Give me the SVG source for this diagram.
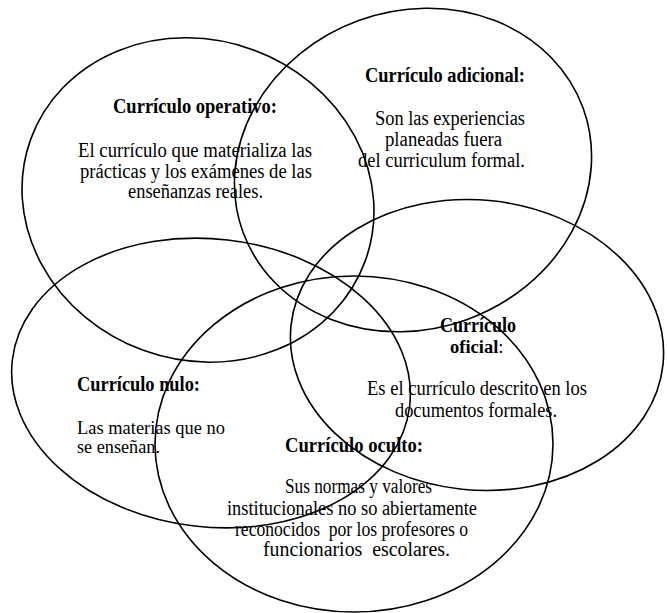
<svg xmlns="http://www.w3.org/2000/svg" width="667" height="613" viewBox="0 0 667 613">
<style>
.e{fill:none;stroke:#000;stroke-width:1.6}
text{font-family:"Liberation Serif","Times New Roman",serif;font-size:20px;fill:#000;white-space:pre}
.h{font-weight:bold}
</style>
<rect width="667" height="613" fill="#fff"/>
<g id="operativo">
<ellipse class="e" cx="198" cy="200" rx="178" ry="160" transform="rotate(20 198 200)"/>
<text class="h" x="113" y="113" textLength="164" lengthAdjust="spacingAndGlyphs">Currículo operativo:</text>
<text x="78" y="157" textLength="234" lengthAdjust="spacingAndGlyphs">El currículo que materializa las</text>
<text x="80" y="178" textLength="232" lengthAdjust="spacingAndGlyphs">prácticas y los exámenes de las</text>
<text x="128" y="198" textLength="135" lengthAdjust="spacingAndGlyphs">enseñanzas reales.</text>
</g>
<g id="adicional">
<ellipse class="e" cx="413" cy="170" rx="181" ry="159" transform="rotate(-20 413 170)"/>
<text class="h" x="365" y="82" textLength="160" lengthAdjust="spacingAndGlyphs">Currículo adicional:</text>
<text x="375" y="125" textLength="150" lengthAdjust="spacingAndGlyphs">Son las experiencias</text>
<text x="385" y="146" textLength="117" lengthAdjust="spacingAndGlyphs">planeadas fuera</text>
<text x="358" y="167" textLength="167" lengthAdjust="spacingAndGlyphs">del curriculum formal.</text>
</g>
<g id="oficial">
<ellipse class="e" cx="477" cy="345" rx="187" ry="145" transform="rotate(6 477 345)"/>
<text class="h" x="440" y="332" textLength="76" lengthAdjust="spacingAndGlyphs">Currículo</text>
<text x="450" y="353" style="font-size:18.5px"><tspan class="h">oficial</tspan>:</text>
<text x="367" y="395" textLength="220" lengthAdjust="spacingAndGlyphs">Es el currículo descrito en los</text>
<text x="395" y="417" textLength="162" lengthAdjust="spacingAndGlyphs">documentos formales.</text>
</g>
<g id="nulo">
<ellipse class="e" cx="211" cy="383" rx="200" ry="144" transform="rotate(6.6 211 383)"/>
<text class="h" x="77" y="391" textLength="123" lengthAdjust="spacingAndGlyphs">Currículo nulo:</text>
<text x="77" y="434" style="font-size:19px" textLength="148" lengthAdjust="spacingAndGlyphs">Las materias que no</text>
<text x="77" y="453" style="font-size:19px" textLength="83" lengthAdjust="spacingAndGlyphs">se enseñan.</text>
</g>
<g id="oculto">
<ellipse class="e" cx="354" cy="444" rx="199" ry="168"/>
<text class="h" x="285" y="452" textLength="138" lengthAdjust="spacingAndGlyphs">Currículo oculto:</text>
<text x="285" y="493" textLength="147" lengthAdjust="spacingAndGlyphs">Sus normas y valores</text>
<text x="227" y="515" textLength="250" lengthAdjust="spacingAndGlyphs">institucionales no so abiertamente</text>
<text x="235" y="536" textLength="233" lengthAdjust="spacingAndGlyphs">reconocidos  por los profesores o</text>
<text x="263" y="556" textLength="187" lengthAdjust="spacingAndGlyphs">funcionarios  escolares.</text>
</g>
<g id="connectors"/>
</svg>
